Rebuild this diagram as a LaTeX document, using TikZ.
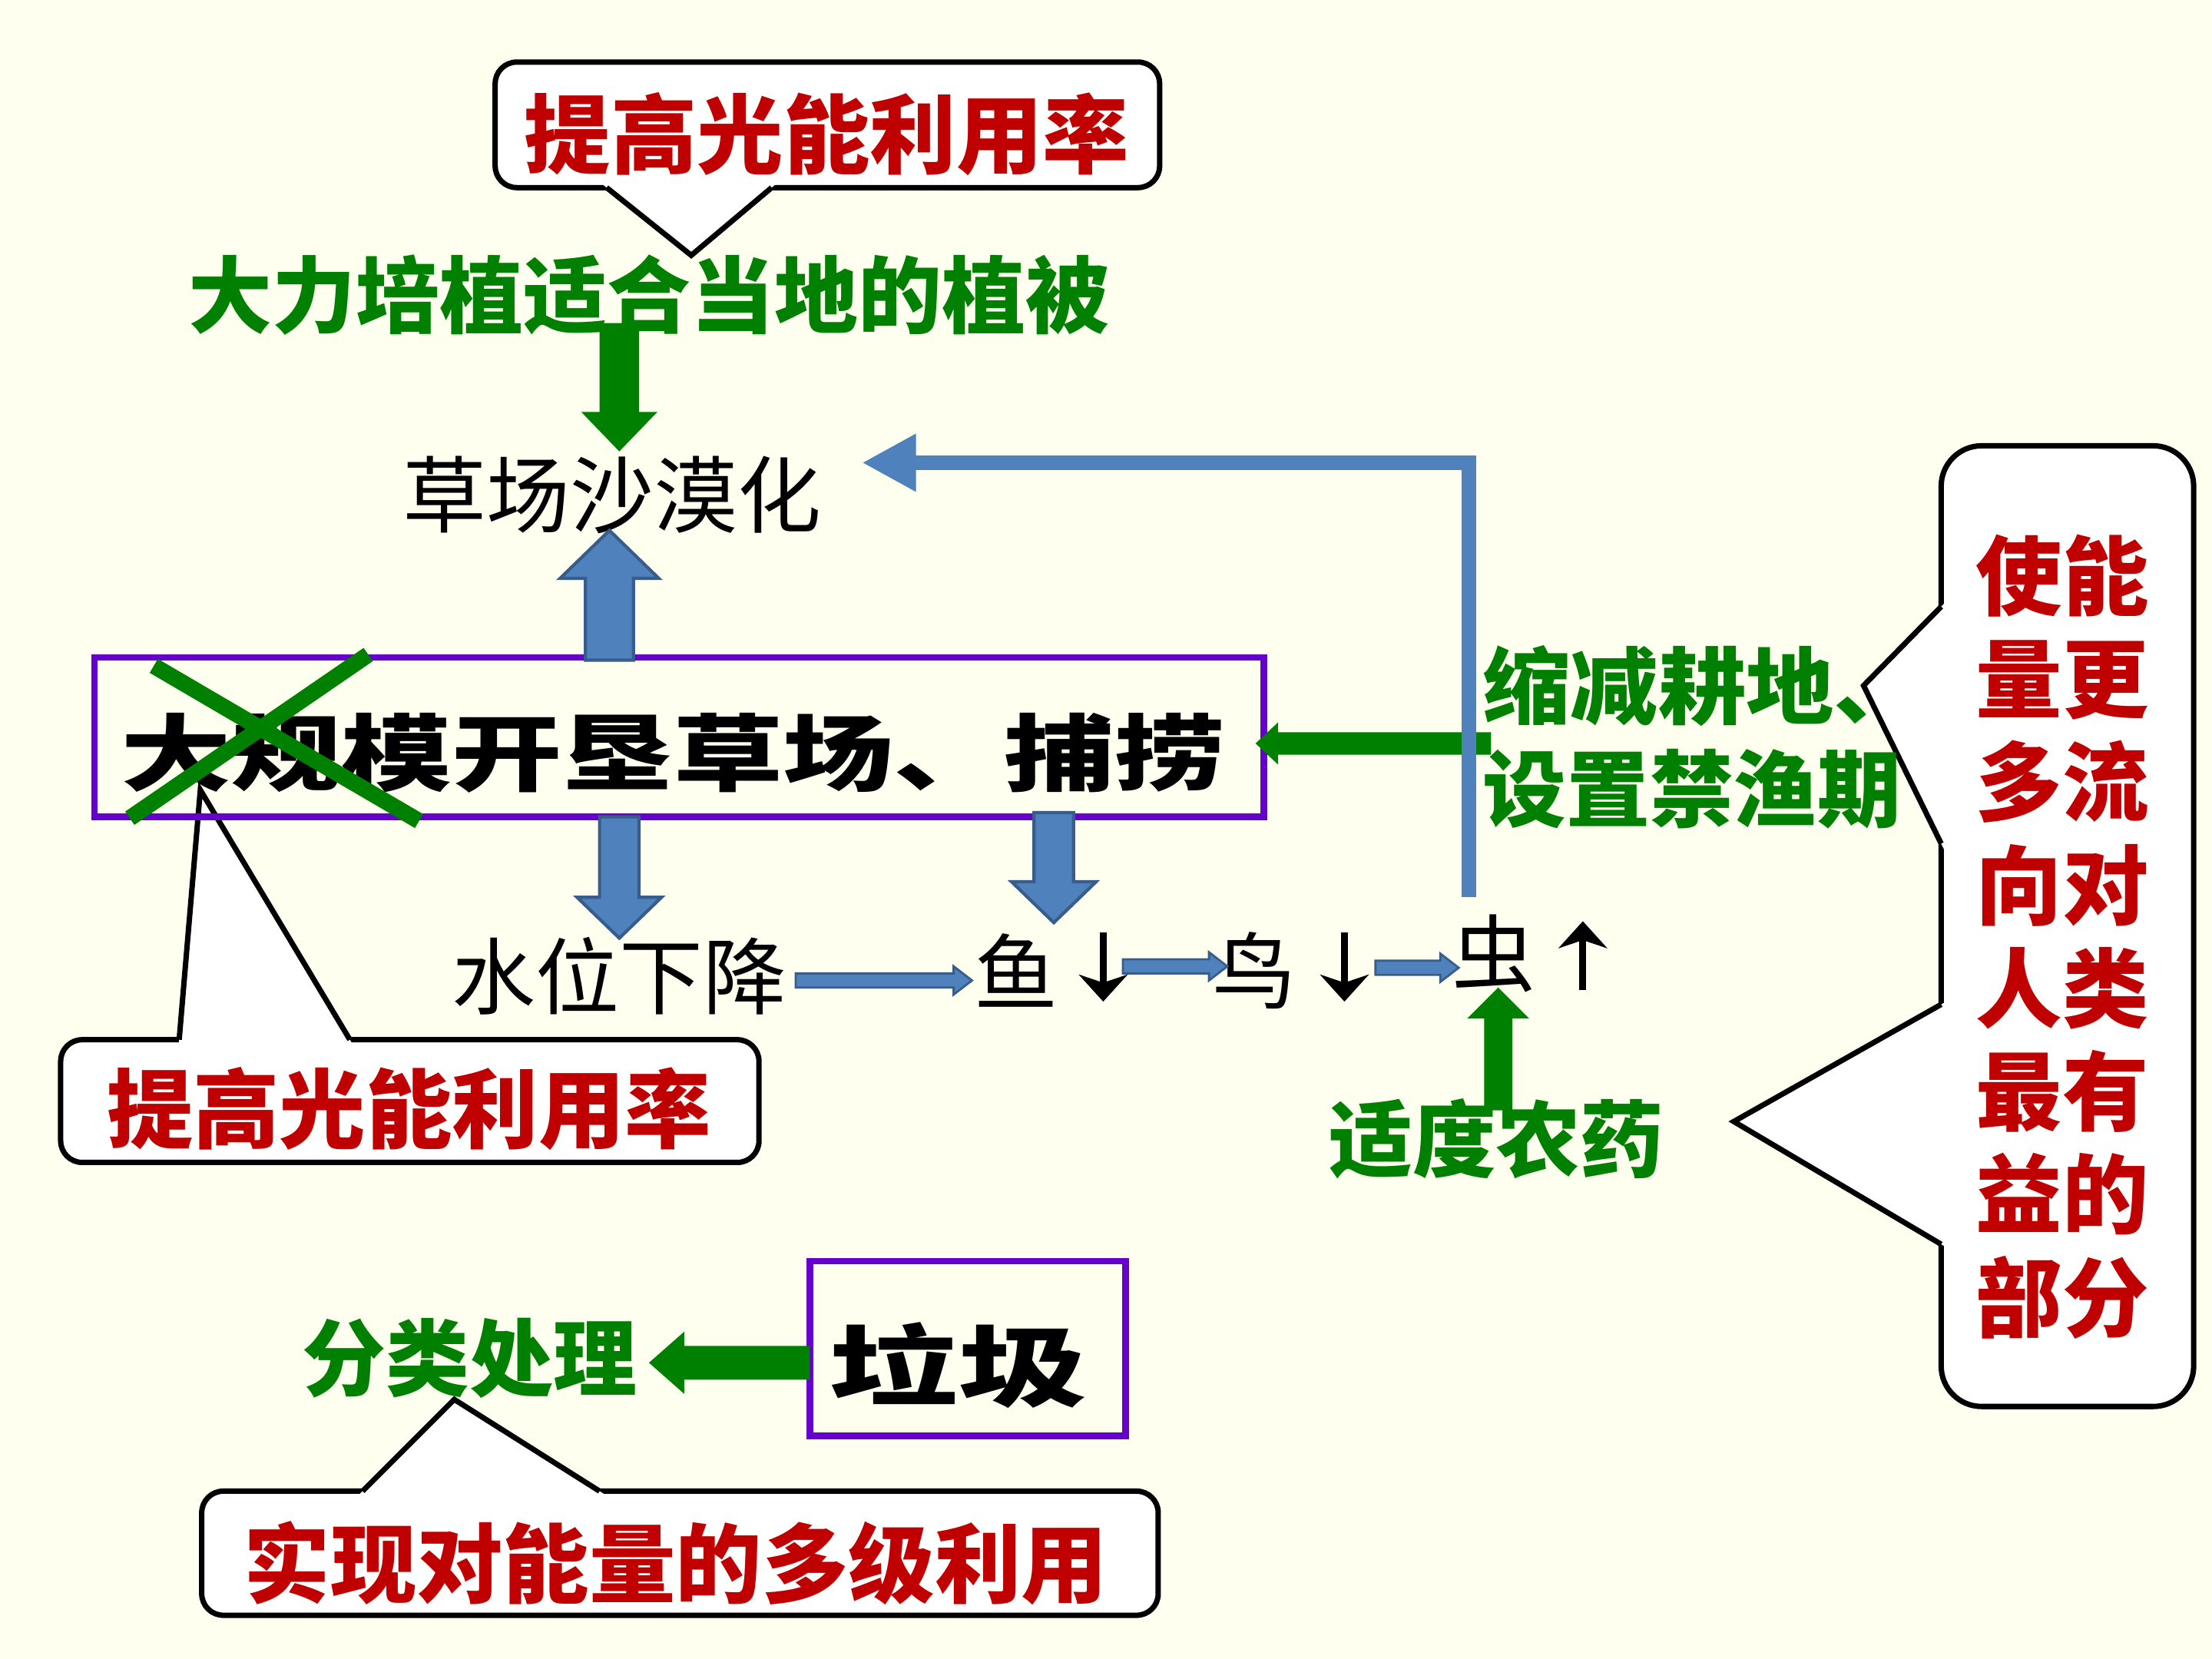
\documentclass[tikz,border=0pt]{standalone}
\usepackage{fontspec}
\usetikzlibrary{arrows.meta,calc}
\newfontfamily\cjk{Noto Sans CJK SC}
\newfontfamily\cjkblack{Noto Sans CJK SC Black}
\definecolor{bg}{RGB}{255,255,240}
\definecolor{redt}{RGB}{192,0,0}
\definecolor{greent}{RGB}{0,128,0}
\definecolor{blueA}{RGB}{79,129,189}
\definecolor{blueB}{RGB}{56,93,138}
\definecolor{purp}{RGB}{102,0,204}
% block arrows: style, x, ytail, ybase, ytip, shaft half width, head half width
\newcommand{\blockv}[7]{\draw[#1] ({#2-#6},#3) -- ({#2-#6},#4) -- ({#2-#7},#4) -- (#2,#5) -- ({#2+#7},#4) -- ({#2+#6},#4) -- ({#2+#6},#3) -- cycle;}
% style, y, xtail, xbase, xtip, shaft half width, head half width
\newcommand{\blockh}[7]{\draw[#1] (#3,{#2-#6}) -- (#4,{#2-#6}) -- (#4,{#2-#7}) -- (#5,#2) -- (#4,{#2+#7}) -- (#4,{#2+#6}) -- (#3,{#2+#6}) -- cycle;}
\tikzset{
  redtxt/.style={text=redt, font=\cjk\bfseries\fontsize{32}{38}\selectfont},
  greentxt/.style={text=greent, font=\cjk\bfseries\fontsize{31}{37}\selectfont},
  plaintxt/.style={text=black, font=\cjk\fontsize{31}{37}\selectfont},
  heavytxt/.style={text=black, font=\cjkblack\fontsize{31}{37}\selectfont},
  callbox/.style={draw=black, fill=white, line width=2pt, rounded corners=8pt},
  calledge/.style={draw=black, line width=2pt, line join=miter},
  purpbox/.style={draw=purp, line width=2.5pt},
  greenarr/.style={fill=greent, draw=none},
  blueblock/.style={fill=blueA, draw=blueB, line width=1.2pt},
  bluethin/.style={fill=blueA, draw=blueB, line width=0.8pt},
  blueline/.style={draw=blueA, line width=5.4pt, -{Triangle[length=20pt,width=20pt]}},
  blkarr/.style={draw=black, line width=2.6pt, -{Stealth[length=10pt,width=18pt,inset=3pt]}},
  greenx/.style={draw=greent, line width=6pt},
}
\begin{document}
\begin{tikzpicture}[x=0.018367cm, y=-0.018367cm, every node/.style={inner sep=0pt, outer sep=0pt}]
\fill[bg] (0,0) rectangle (1568,1176);
\useasboundingbox (0,0) rectangle (1568,1176);

% ---- top callout
\coordinate (tb1) at (430,133); \coordinate (tt) at (490,181); \coordinate (tb2) at (547,133);
\draw[callbox] (351,44) rectangle (822,133);
\fill[white] ($(tt)!1.12!(tb1)$) -- (tt) -- ($(tt)!1.12!(tb2)$) -- cycle;
\draw[calledge] (tb1) -- (tt) -- (tb2);
\node[redtxt] (c1) at (586,95) {提高光能利用率};

% ---- lower left callout
\coordinate (lb1) at (127,737); \coordinate (lt) at (142,560); \coordinate (lb2) at (248,737);
\draw[callbox] (43,737) rectangle (538,824);
\fill[white] ($(lt)!1.06!(lb1)$) -- (lt) -- ($(lt)!1.06!(lb2)$) -- cycle;
\draw[calledge] (lb1) -- (lt) -- (lb2);
\node[redtxt] (c2) at (290,786) {提高光能利用率};

% ---- bottom callout
\coordinate (bb1) at (257,1057); \coordinate (bt) at (322,992); \coordinate (bb2) at (425,1057);
\draw[callbox] (143,1057) rectangle (821,1145);
\fill[white] ($(bt)!1.12!(bb1)$) -- (bt) -- ($(bt)!1.12!(bb2)$) -- cycle;
\draw[calledge] (bb1) -- (bt) -- (bb2);
\node[redtxt] (c3) at (479,1108) {实现对能量的多级利用};

% ---- right callout
\coordinate (ra1) at (1376,430); \coordinate (rat) at (1321,486); \coordinate (ra2) at (1376,598);
\coordinate (rb1) at (1376,712); \coordinate (rbt) at (1229,795); \coordinate (rb2) at (1376,882);
\draw[callbox, rounded corners=15pt] (1376,316) rectangle (1555,997);
\fill[white] ($(rat)!1.1!(ra1)$) -- (rat) -- ($(rat)!1.1!(ra2)$) -- cycle;
\fill[white] ($(rbt)!1.05!(rb1)$) -- (rbt) -- ($(rbt)!1.05!(rb2)$) -- cycle;
\draw[calledge] (ra1) -- (rat) -- (ra2);
\draw[calledge] (rb1) -- (rbt) -- (rb2);
\node[redtxt, align=center, font=\cjk\bfseries\fontsize{32}{38.2}\selectfont] (c4) at (1462,664)
  {使能\\量更\\多流\\向对\\人类\\最有\\益的\\部分};

% ---- green text
\node[greentxt] (zhibei) at (460,209) {大力培植适合当地的植被};
\node[greentxt, anchor=west, xscale=1.05] (suojian) at (1051,486) {缩减耕地、};
\node[greentxt, anchor=west] (jinyu) at (1051,559) {设置禁渔期};
\node[greentxt] (nongyao) at (1061,807) {适度农药};
\node[greentxt] (fenlei) at (333,963) {分类处理};

% ---- plain text
\node[plaintxt] (caochang) at (434,351) {草场沙漠化};
\node[plaintxt] (shuiwei) at (439,692) {水位下降};
\node[plaintxt] (yu) at (720,688) {鱼};
\node[plaintxt] (niao) at (889,688) {鸟};
\node[plaintxt] (chong) at (1059,676) {虫};

% ---- purple boxes
\draw[purpbox] (67,466) rectangle (896,579);
\node[heavytxt, xscale=1.32] (kaiken) at (477,534) {大规模开垦草场、捕捞};
\draw[purpbox] (574,894) rectangle (798,1018);
\node[heavytxt, xscale=1.45, font=\cjkblack\fontsize{33}{38}\selectfont] (laji) at (679,968) {垃圾};

% ---- green X
\draw[greenx] (109,472) -- (297,582);
\draw[greenx] (261,464) -- (92,580);

% ---- green block arrows
\blockv{greenarr}{439}{229}{292}{320}{14}{27}
\blockh{greenarr}{527}{1057}{906}{890}{8}{15}
\blockv{greenarr}{1062}{787}{722}{700}{10}{22}
\blockh{greenarr}{966}{574}{485}{460}{12}{22}

% ---- blue block arrows
\blockv{blueblock}{432}{468}{410}{376}{17}{35}
\blockv{blueblock}{439}{579}{636}{665}{14}{30}
\blockv{blueblock}{747}{576}{625}{654}{14}{30}

% ---- thin blue arrows in the chain
\blockh{bluethin}{695}{564}{676}{689}{5}{10}
\blockh{bluethin}{685}{796}{857}{870}{5}{10}
\blockh{bluethin}{686}{975}{1021}{1034}{5}{10}

% ---- blue feedback line
\coordinate (fb0) at (1041,636);
\coordinate (fb1) at (1041,328);
\coordinate (fb2) at (611,328);
\draw[blueline] (fb0) -- (fb1) -- (fb2);

% ---- black up/down arrows
\draw[blkarr] (782,661) -- (782,710);
\draw[blkarr] (953,661) -- (953,710);
\draw[blkarr] (1122,702) -- (1122,653);
\end{tikzpicture}
\end{document}
